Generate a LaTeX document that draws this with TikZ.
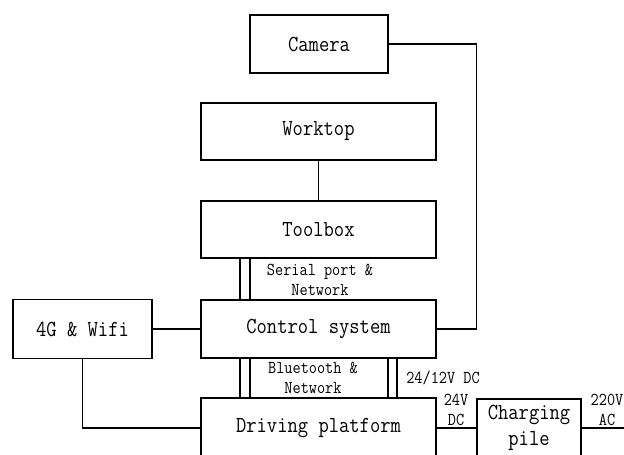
\documentclass[tikz,border=0pt]{standalone}
\newcommand{\sx}[1]{\scalebox{0.87}[1]{#1}}
\tikzset{
  blk/.style={draw, line width=1.3pt, inner sep=0pt, font=\ttfamily\fontsize{23}{26}\selectfont, align=center},
  lbl/.style={inner sep=0pt, font=\ttfamily\fontsize{18.2}{20}\selectfont, align=center},
  wire/.style={line width=1.3pt}
}
\begin{document}
\begin{tikzpicture}[x=1pt,y=-1pt]
\useasboundingbox (0,0) rectangle (624,455);
\clip (0,0) rectangle (624,455);
\node[blk, minimum width=138, minimum height=58] (cam) at (319,44) {\sx{Camera}};
\node[blk, minimum width=235, minimum height=57] (work) at (318.5,131.5) {\sx{Worktop}};
\node[blk, minimum width=235, minimum height=57] (tool) at (318.5,229.5) {\sx{Toolbox}};
\node[blk, minimum width=235, minimum height=58] (ctrl) at (318.5,329) {\sx{Control system}};
\node[blk, minimum width=139, minimum height=59] (g) at (82.5,329) {\sx{4G \& Wifi}};
\node[blk, minimum width=235, minimum height=60] (drive) at (318.5,428) {\sx{Driving platform}};
\node[blk, minimum width=104, minimum height=58] (pile) at (529,428) {\sx{Charging}\\\sx{pile}};
\coordinate (acend) at (626,428);

\draw[wire] (cam.east) -- ++(88,0) |- (ctrl.east);
\draw[wire] (work) -- (tool);
\draw[wire] ([xshift=-78.5]tool.south) -- ([xshift=-78.5]ctrl.north);
\draw[wire] ([xshift=-68.5]tool.south) -- ([xshift=-68.5]ctrl.north);
\draw[wire] ([xshift=-78.5]ctrl.south) -- ([xshift=-78.5]drive.north);
\draw[wire] ([xshift=-68.5]ctrl.south) -- ([xshift=-68.5]drive.north);
\draw[wire] ([xshift=69.5]ctrl.south) -- ([xshift=69.5]drive.north);
\draw[wire] ([xshift=78.5]ctrl.south) -- ([xshift=78.5]drive.north);
\draw[wire] (g.east) -- (ctrl.west);
\draw[wire] (g.south) |- (drive.west);
\draw[wire] (drive.east) -- (pile.west);
\draw[wire] (pile.east) -- (acend);

\node[lbl] (l1) at (320,280) {\sx{Serial port \&}\\\sx{Network}};
\node[lbl] (l2) at (313,378) {\sx{Bluetooth \&}\\\sx{Network}};
\node[lbl] (l3) at (443,378) {\sx{24/12V DC}};
\node[lbl] (l4) at (456,409.5) {\sx{24V}\\\sx{DC}};
\node[lbl] (l5) at (607,409.5) {\sx{220V}\\\sx{AC}};
\end{tikzpicture}
\end{document}
